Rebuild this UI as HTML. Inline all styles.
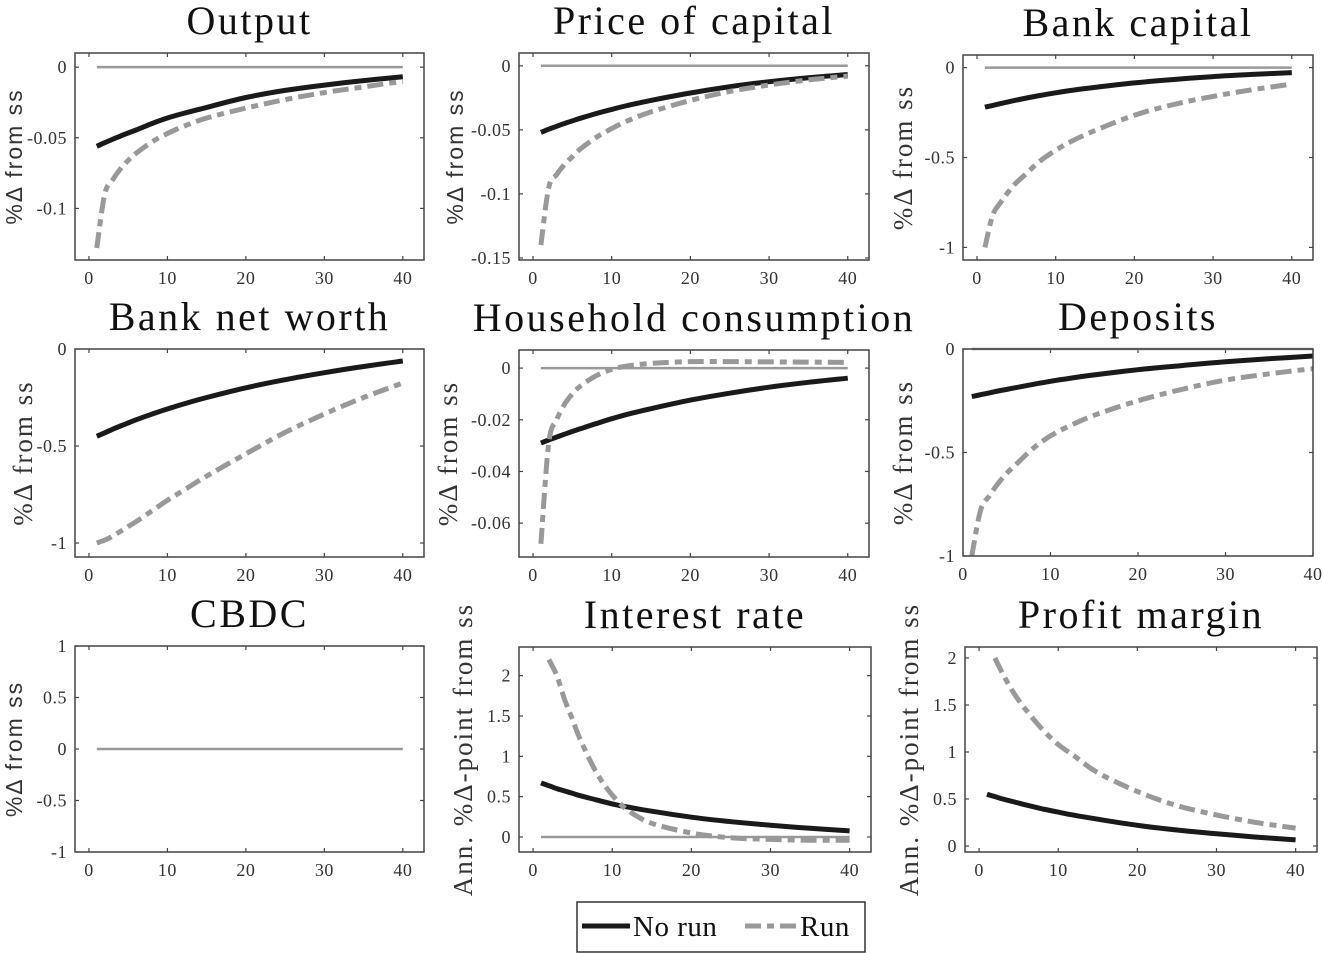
<!DOCTYPE html>
<html><head><meta charset="utf-8">
<style>
html,body{margin:0;padding:0;background:#fff;}
svg{display:block;}
.tick{font-family:"Liberation Serif",serif;font-size:18px;fill:#333;letter-spacing:0.5px;}
.title{font-family:"Liberation Serif",serif;font-size:40px;fill:#111;letter-spacing:2.5px;}
.ylab{font-family:"Liberation Serif",serif;font-size:27px;fill:#333;letter-spacing:2px;}
.ylabs{font-family:"Liberation Sans",sans-serif;font-size:23px;fill:#333;letter-spacing:2px;}
</style></head>
<body>
<svg id="fig" width="1323" height="953" viewBox="0 0 1323 953"></svg>
<script>
// ---- data ----
const periods = [1,2,3,4,5,6,8,10,12,15,20,25,30,35,40];
const runPeriods = [2,3,4,5,6,8,10,12,15,20,25,30,35,40];
const outputNoRun = [-0.056,-0.0535,-0.0511,-0.0488,-0.0466,-0.0445,-0.040,-0.036,-0.0328,-0.0285,-0.0215,-0.0165,-0.0127,-0.0095,-0.0068];
const outputRun = [-0.128,-0.090,-0.080,-0.072,-0.066,-0.061,-0.053,-0.047,-0.042,-0.036,-0.029,-0.023,-0.018,-0.014,-0.010];
const priceNoRun = [-0.052,-0.0495,-0.0472,-0.045,-0.043,-0.041,-0.0373,-0.034,-0.031,-0.027,-0.0212,-0.0163,-0.0124,-0.0093,-0.0068];
const priceRun = [-0.14,-0.095,-0.085,-0.077,-0.071,-0.065,-0.056,-0.049,-0.043,-0.036,-0.027,-0.020,-0.015,-0.011,-0.008];
const bankCapNoRun = [-0.22,-0.21,-0.20,-0.19,-0.181,-0.172,-0.155,-0.14,-0.127,-0.11,-0.085,-0.066,-0.05,-0.038,-0.028];
const bankCapRun = [-1.0,-0.82,-0.75,-0.69,-0.64,-0.60,-0.52,-0.46,-0.41,-0.35,-0.265,-0.205,-0.16,-0.123,-0.092];
const netWorthNoRun = [-0.45,-0.432,-0.414,-0.397,-0.381,-0.365,-0.336,-0.309,-0.284,-0.25,-0.2,-0.158,-0.122,-0.09,-0.062];
const netWorthRun = [-1.0,-0.985,-0.965,-0.94,-0.915,-0.89,-0.835,-0.78,-0.73,-0.655,-0.54,-0.43,-0.335,-0.25,-0.175];
const consNoRun = [-0.029,-0.0278,-0.0267,-0.0256,-0.0245,-0.0235,-0.0215,-0.0196,-0.0179,-0.0157,-0.0124,-0.0097,-0.0074,-0.0055,-0.0039];
const consRun = [-0.068,-0.029,-0.020,-0.014,-0.010,-0.007,-0.003,-0.0005,0.0008,0.0018,0.0025,0.0025,0.0024,0.0023,0.0022];
const depNoRun = [-0.23,-0.221,-0.212,-0.203,-0.195,-0.187,-0.171,-0.156,-0.143,-0.125,-0.1,-0.08,-0.062,-0.047,-0.034];
const depRun = [-1.0,-0.78,-0.71,-0.65,-0.60,-0.56,-0.48,-0.42,-0.375,-0.32,-0.25,-0.195,-0.15,-0.12,-0.095];
const rateNoRun = [0.67,0.635,0.60,0.57,0.54,0.51,0.46,0.41,0.37,0.32,0.245,0.19,0.145,0.108,0.075];
const rateRun = [2.2,2.0,1.7,1.45,1.2,0.8,0.52,0.33,0.17,0.05,-0.01,-0.03,-0.04,-0.04];
const profitNoRun = [0.55,0.525,0.50,0.478,0.456,0.435,0.395,0.36,0.327,0.285,0.22,0.17,0.13,0.095,0.065];
const profitRun = [2.0,1.83,1.68,1.55,1.44,1.24,1.08,0.96,0.78,0.58,0.43,0.33,0.25,0.19];
const xTicks = [0,10,20,30,40];

const NS="http://www.w3.org/2000/svg";
const svg=document.getElementById('fig');
function mk(tag,attrs,parent){const e=document.createElementNS(NS,tag);for(const k in attrs)e.setAttribute(k,attrs[k]);(parent||svg).appendChild(e);return e;}

const panels=[
 {id:'output',title:'Output',x:75,y:53,w:349,h:207,xl:[-1.78,42.7],yl:[-0.1365,0.01],yt:[-0.1,-0.05,0],ytl:['-0.1','-0.05','0'],nr:outputNoRun,run:outputRun,rp:periods,lab:'%Δ from ss',sans:true,lx:22,zero:true},
 {id:'price-of-capital',title:'Price of capital',x:519,y:53,w:350,h:207,xl:[-1.78,42.7],yl:[-0.1516,0.01],yt:[-0.15,-0.1,-0.05,0],ytl:['-0.15','-0.1','-0.05','0'],nr:priceNoRun,run:priceRun,rp:periods,lab:'%Δ from ss',sans:true,lx:463,zero:true},
 {id:'bank-capital',title:'Bank capital',x:963,y:55,w:350,h:205,xl:[-1.78,42.7],yl:[-1.07,0.07],yt:[-1,-0.5,0],ytl:['-1','-0.5','0'],nr:bankCapNoRun,run:bankCapRun,rp:periods,lab:'%Δ from ss',lx:912,zero:true},
 {id:'bank-net-worth',title:'Bank net worth',x:75,y:349,w:349,h:208,xl:[-1.78,42.7],yl:[-1.072,0],yt:[-1,-0.5,0],ytl:['-1','-0.5','0'],nr:netWorthNoRun,run:netWorthRun,rp:periods,lab:'%Δ from ss',lx:32,zero:false},
 {id:'household-consumption',title:'Household consumption',x:519,y:350,w:350,h:207,xl:[-1.78,42.7],yl:[-0.0731,0.007],yt:[-0.06,-0.04,-0.02,0],ytl:['-0.06','-0.04','-0.02','0'],nr:consNoRun,run:consRun,rp:periods,lab:'%Δ from ss',lx:457,zero:true},
 {id:'deposits',title:'Deposits',x:963,y:349,w:350,h:207,xl:[0,40],yl:[-1,0],yt:[-1,-0.5,0],ytl:['-1','-0.5','0'],nr:depNoRun,run:depRun,rp:periods,lab:'%Δ from ss',lx:912,zero:true},
 {id:'cbdc',title:'CBDC',x:75,y:646,w:349,h:206,xl:[-1.78,42.7],yl:[-1,1],yt:[-1,-0.5,0,0.5,1],ytl:['-1','-0.5','0','0.5','1'],nr:null,run:null,rp:periods,lab:'%Δ from ss',sans:true,lx:22,zero:true},
 {id:'interest-rate',title:'Interest rate',x:519,y:647,w:352,h:205,xl:[-1.78,42.7],yl:[-0.186,2.355],yt:[0,0.5,1,1.5,2],ytl:['0','0.5','1','1.5','2'],nr:rateNoRun,run:rateRun,rp:runPeriods,lab:'Ann. %Δ-point from ss',lx:472,zero:true},
 {id:'profit-margin',title:'Profit margin',x:965,y:647,w:352,h:205,xl:[-1.78,42.7],yl:[-0.064,2.117],yt:[0,0.5,1,1.5,2],ytl:['0','0.5','1','1.5','2'],nr:profitNoRun,run:profitRun,rp:runPeriods,lab:'Ann. %Δ-point from ss',lx:918,zero:false}
];

function smooth(pts){
 let d='M'+pts[0][0].toFixed(1)+','+pts[0][1].toFixed(1);
 for(let i=0;i<pts.length-1;i++){
  const p0=pts[Math.max(0,i-1)],p1=pts[i],p2=pts[i+1],p3=pts[Math.min(pts.length-1,i+2)];
  const c1=[p1[0]+(p2[0]-p0[0])/6,p1[1]+(p2[1]-p0[1])/6];
  const c2=[p2[0]-(p3[0]-p1[0])/6,p2[1]-(p3[1]-p1[1])/6];
  d+=' C'+c1[0].toFixed(1)+','+c1[1].toFixed(1)+' '+c2[0].toFixed(1)+','+c2[1].toFixed(1)+' '+p2[0].toFixed(1)+','+p2[1].toFixed(1);
 }
 return d;
}

panels.forEach(p=>{
 const g=mk('g',{});
 
 
 const sx=v=>p.x+(v-p.xl[0])/(p.xl[1]-p.xl[0])*p.w;
 const sy=v=>p.y+p.h-(v-p.yl[0])/(p.yl[1]-p.yl[0])*p.h;
 const t=mk('text',{x:p.x+p.w/2,y:p.y-19,'text-anchor':'middle',class:'title'},g);
 t.textContent=p.title;
 
 
 const cy=p.y+p.h/2;
 const yl=mk('text',{x:p.lx,y:cy,'text-anchor':'middle',class:p.sans?'ylabs':'ylab',transform:'rotate(-90 '+p.lx+' '+cy+')'},g);
 yl.textContent=p.lab;
 
 
 xTicks.forEach(v=>{
  const X=sx(v);
  mk('line',{x1:X,x2:X,y1:p.y+p.h,y2:p.y+p.h-4,stroke:'#444','stroke-width':1.2},g);
  mk('line',{x1:X,x2:X,y1:p.y,y2:p.y+4,stroke:'#444','stroke-width':1.2},g);
  const tl=mk('text',{x:X,y:p.y+p.h+24,'text-anchor':'middle',class:'tick'},g);
  tl.textContent=String(v);
  
  
 });
 p.yt.forEach((v,i)=>{
  const Y=sy(v);
  mk('line',{x1:p.x,x2:p.x+4,y1:Y,y2:Y,stroke:'#444','stroke-width':1.2},g);
  mk('line',{x1:p.x+p.w,x2:p.x+p.w-4,y1:Y,y2:Y,stroke:'#444','stroke-width':1.2},g);
  const tl=mk('text',{x:p.x-8,y:Y+6,'text-anchor':'end',class:'tick'},g);
  tl.textContent=p.ytl[i];
  
  
 });
 if(p.zero){
  const z=mk('line',{x1:sx(1),x2:sx(40),y1:sy(0),y2:sy(0),stroke:'#999','stroke-width':2.5},g);
  
  
 }
 if(p.nr){
  const pts=periods.map((t,i)=>[sx(t),sy(p.nr[i])]);
  const l=mk('path',{d:smooth(pts),fill:'none',stroke:'#1a1a1a','stroke-width':5},g);
  
  
 }
 if(p.run){
  const pts=p.rp.map((t,i)=>[sx(t),sy(p.run[i])]);
  const l=mk('path',{d:smooth(pts),fill:'none',stroke:'#999','stroke-width':5,'stroke-dasharray':'16 6 7 6'},g);
  
  
 }
 const b=mk('rect',{x:p.x,y:p.y,width:p.w,height:p.h,fill:'none',stroke:'#444','stroke-width':1.5},g);
 
 
});

const lg=mk('g',{});


mk('rect',{x:577,y:902,width:288,height:50,fill:'#fff',stroke:'#333','stroke-width':1.5},lg);
mk('line',{x1:582,x2:630,y1:926,y2:926,stroke:'#1a1a1a','stroke-width':5},lg);
const t1=mk('text',{x:633,y:936,class:'title',style:'font-size:29px;letter-spacing:0.5px'},lg);
t1.textContent='No run';


mk('line',{x1:745,x2:797,y1:926,y2:926,stroke:'#999','stroke-width':5,'stroke-dasharray':'16 6 7 6'},lg);
const t2=mk('text',{x:800,y:936,class:'title',style:'font-size:29px;letter-spacing:0.5px'},lg);
t2.textContent='Run';


</script>
</body></html>
